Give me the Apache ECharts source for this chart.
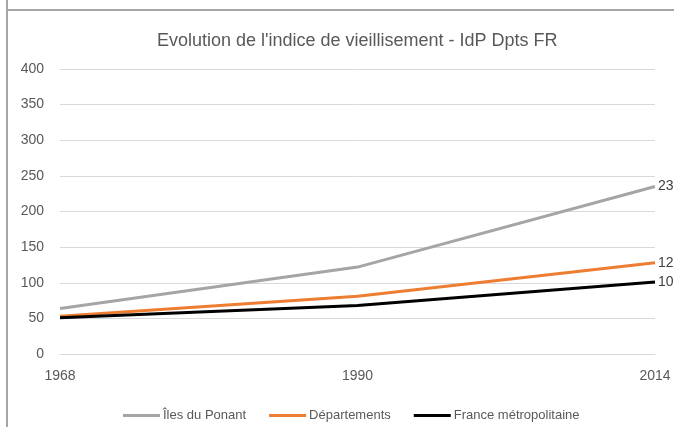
<!DOCTYPE html>
<html>
<head>
<meta charset="utf-8">
<script src="https://cdn.jsdelivr.net/npm/echarts@6/dist/echarts.min.js"></script>
<style>
    html, body { margin: 0; padding: 0; background: #fff; overflow: hidden; }
    #chart { position: absolute; left: 0; top: 0; width: 674px; height: 427px; }
    #vline { position: absolute; left: 6px; top: 0; width: 2px; height: 427px; background: #a6a6a6; }
    #hline { position: absolute; left: 6px; top: 9px; width: 668px; height: 2px; background: #a6a6a6; }
</style>
</head>
<body>
<div id="chart"></div>
<div id="vline"></div>
<div id="hline"></div>
<script>
// données
let annees = ['1968', '1990', '2014'];
let ilesPonant = [64, 122, 235];
let departements = [53, 81, 128];
let franceMetro = [51, 68, 101];

let chart = echarts.init(document.getElementById('chart'));
let txt = '#595959';
let fnt = 'Liberation Sans, Arial, sans-serif';

// etiquette uniquement sur le dernier point
function dernier(p) {
    return p.dataIndex === annees.length - 1 ? p.value : '';
}

function serie(nom, data, couleur) {
    return {
        name: nom,
        type: 'line',
        data: data,
        symbol: 'circle',
        symbolSize: 0,
        showSymbol: true,
        lineStyle: { color: couleur, width: 3 },
        itemStyle: { color: couleur },
        label: {
            show: true,
            position: 'right',
            distance: 3,
            formatter: dernier,
            color: '#404040',
            fontSize: 14,
            fontFamily: fnt
        },
        emphasis: { disabled: true },
        animation: false
    };
}

let option = {
    title: {
        text: "Evolution de l'indice de vieillisement - IdP Dpts FR",
        left: 152,
        top: 27,
        textStyle: { color: txt, fontSize: 18, fontWeight: 'normal', fontFamily: fnt }
    },
    legend: {
        left: 118,
        top: 404,
        itemWidth: 37,
        itemHeight: 3,
        itemGap: 23,
        icon: 'rect',
        textStyle: { color: txt, fontSize: 13, fontFamily: fnt, padding: [0, 0, 0, -2] },
        data: ['Îles du Ponant', 'Départements', 'France métropolitaine']
    },
    grid: { left: 60, right: 19, top: 69, bottom: 73 },
    xAxis: {
        type: 'category',
        data: annees,
        boundaryGap: false,
        axisLine: { lineStyle: { color: '#d9d9d9' } },
        axisTick: { show: false },
        axisLabel: { color: txt, fontSize: 14, fontFamily: fnt, margin: 15 }
    },
    yAxis: {
        type: 'value',
        min: 0,
        max: 400,
        interval: 50,
        axisLine: { show: false },
        axisTick: { show: false },
        splitLine: { lineStyle: { color: '#d9d9d9' } },
        axisLabel: { color: txt, fontSize: 14, fontFamily: fnt, margin: 16 }
    },
    series: [
        serie('Îles du Ponant', ilesPonant, '#a5a5a5'),
        serie('Départements', departements, '#ed7d31'),
        serie('France métropolitaine', franceMetro, '#000000')
    ]
};
chart.setOption(option);
</script>
</body>
</html>
